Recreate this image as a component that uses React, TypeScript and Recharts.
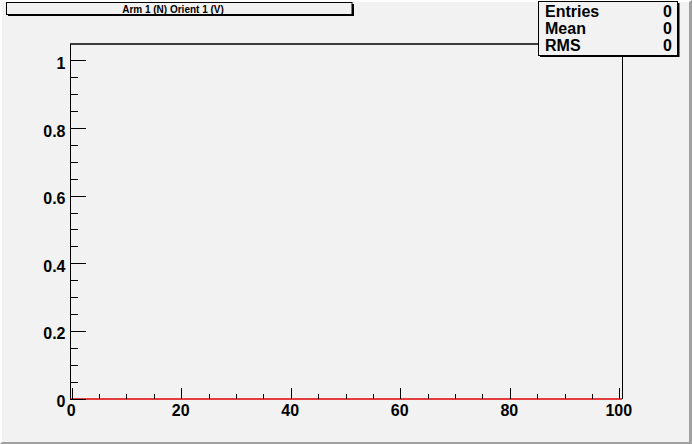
import React from "react";
import { ComposedChart, Line, XAxis, YAxis, ReferenceLine } from "recharts";

// ---- data ----
const histTitle = "Arm 1 (N) Orient 1 (V)";
const binEdges = [-0.4, 100.4];
const binContents = [0, 0];
const yMax = 1.05;
const xTicks = [0, 5, 10, 15, 20, 25, 30, 35, 40, 45, 50, 55, 60, 65, 70, 75, 80, 85, 90, 95, 100];
const xMajorTicks = [0, 20, 40, 60, 80, 100];
const yTicks = [0, 0.05, 0.1, 0.15, 0.2, 0.25, 0.3, 0.35, 0.4, 0.45, 0.5, 0.55, 0.6, 0.65, 0.7, 0.75, 0.8, 0.85, 0.9, 0.95, 1];
const yMajorTicks = [0, 0.2, 0.4, 0.6, 0.8, 1];
const statNames = ["Entries", "Mean", "RMS"];
const statValues = [0, 0, 0];

const data = binEdges.map((x, i) => ({ x, count: binContents[i] }));

const FONT = '"Liberation Sans", Arial, Helvetica, sans-serif';
const BG = "#f2f2f2";

const isMajor = (v: number, majors: number[]) => majors.some((m) => Math.abs(m - v) < 1e-6);

const XTick = (props: any) => {
  const { x, y, payload } = props;
  const v = payload.value as number;
  const major = isMajor(v, xMajorTicks);
  return (
    <g>
      <line x1={x} x2={x} y1={y} y2={y - (major ? 11 : 5.5)} stroke="#000" strokeWidth={1} shapeRendering="crispEdges" />
      {major && (
        <text x={x - 1} y={y + 17} textAnchor="middle" fontFamily={FONT} fontWeight="bold" fontSize={16} fill="#000">
          {String(v)}
        </text>
      )}
    </g>
  );
};

const YTick = (props: any) => {
  const { x, y, payload } = props;
  const v = payload.value as number;
  const major = isMajor(v, yMajorTicks);
  return (
    <g>
      <line x1={x} x2={x + (major ? 16 : 8)} y1={y} y2={y} stroke="#000" strokeWidth={1} shapeRendering="crispEdges" />
      {major && (
        <text x={x - 4.5} y={y + 8} textAnchor="end" fontFamily={FONT} fontWeight="bold" fontSize={16} fill="#000">
          {String(Math.round(v * 10) / 10)}
        </text>
      )}
    </g>
  );
};

export default function App() {
  const x0 = binEdges[0];
  const x1 = binEdges[binEdges.length - 1];
  return (
    <div
      style={{
        position: "absolute",
        left: 0,
        top: 0,
        width: 692,
        height: 444,
        boxSizing: "border-box",
        background: BG,
        borderLeft: "2px solid #ffffff",
        borderTop: "2px solid #ffffff",
        borderRight: "3px solid #a0a0a0",
        borderBottom: "2px solid #a0a0a0",
      }}
    >
      <div style={{ position: "absolute", left: -2, top: -2 }}>
        <ComposedChart width={692} height={444} data={data} margin={{ top: 44, right: 70, bottom: 0, left: 0 }}>
          <XAxis
            dataKey="x"
            type="number"
            domain={[x0, x1]}
            ticks={xTicks}
            interval={0}
            axisLine={false}
            tickLine={false}
            tickSize={0}
            tickMargin={0}
            height={45}
            tick={<XTick />}
          />
          <YAxis
            type="number"
            domain={[0, yMax]}
            ticks={yTicks}
            interval={0}
            axisLine={false}
            tickLine={false}
            tickSize={0}
            tickMargin={0}
            width={70}
            tick={<YTick />}
          />
          <ReferenceLine x={x0} stroke="#000" strokeWidth={1} shapeRendering="crispEdges" ifOverflow="visible" />
          <ReferenceLine x={x1} stroke="#000" strokeWidth={1} shapeRendering="crispEdges" ifOverflow="visible" />
          <ReferenceLine y={yMax} stroke="#000" strokeWidth={1.5} ifOverflow="visible" />
          <Line
            type="stepAfter"
            dataKey="count"
            stroke="#e00000"
            strokeWidth={1.4}
            dot={false}
            activeDot={false}
            isAnimationActive={false}
          />
        </ComposedChart>
        <svg width={692} height={444} style={{ position: "absolute", left: 0, top: 0, pointerEvents: "none" }}>
          {/* title box */}
          <rect x={8} y={4} width={346} height={12} fill="#000" />
          <rect x={6.5} y={2.5} width={345.5} height={12} fill={BG} stroke="#000" strokeWidth={1} />
          <text x={173} y={12.8} textAnchor="middle" fontFamily={FONT} fontWeight="bold" fontSize={10} fill="#000">
            {histTitle}
          </text>
          {/* stats box */}
          <rect x={540} y={3} width={139.5} height={54} fill="#000" />
          <rect x={538.5} y={1.5} width={139} height={54} fill={BG} stroke="#000" strokeWidth={1} />
          {statNames.map((name, i) => (
            <g key={name}>
              <text x={545} y={16.7 + i * 17} fontFamily={FONT} fontWeight="bold" fontSize={16} fill="#000">
                {name}
              </text>
              <text x={672} y={16.7 + i * 17} textAnchor="end" fontFamily={FONT} fontWeight="bold" fontSize={16} fill="#000">
                {String(statValues[i])}
              </text>
            </g>
          ))}
        </svg>
      </div>
    </div>
  );
}
